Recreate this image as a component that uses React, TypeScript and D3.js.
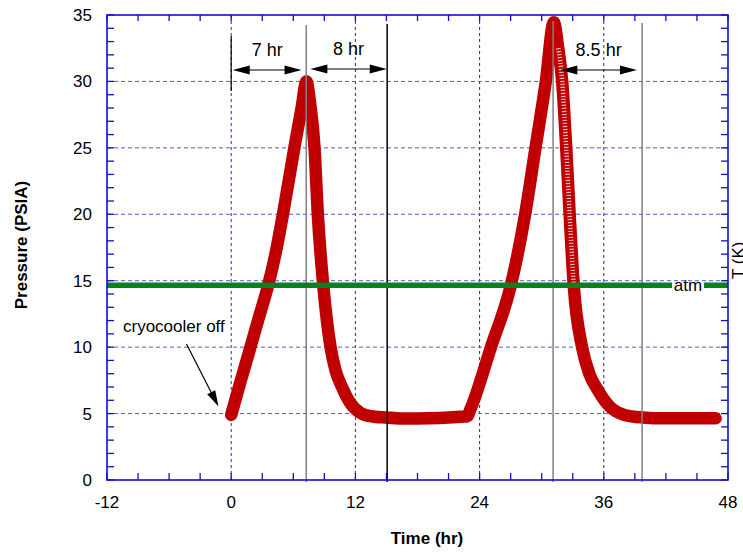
import React from 'react';
import * as d3 from 'd3';

// pressure record
const timeHr = [0, 0.9, 1.86, 2.7, 3.55, 4.3, 5.0, 6.1, 6.8, 7.27, 7.6, 8.05, 8.37, 8.9, 9.6, 10.1, 10.7, 11.5, 12.5, 13.5, 15, 17, 19, 21, 22.5, 22.8, 23.1, 25.1, 27.0, 28.4, 29.4, 30.4, 31.17, 31.6, 31.98, 32.37, 32.7, 33.1, 33.9, 34.6, 35.4, 36.6, 38, 39.7, 42, 44, 46.8];
const psia = [4.9, 7.4, 10, 12.3, 14.6, 17.1, 20, 25, 28, 30, 28.5, 25, 20, 14.6, 10, 8.2, 7.0, 5.8, 5.05, 4.8, 4.7, 4.62, 4.64, 4.7, 4.78, 4.8, 5.3, 10, 14.6, 20, 25, 30, 34.45, 32.5, 30, 25, 20, 14.6, 10, 8.0, 6.8, 5.5, 4.9, 4.71, 4.64, 4.65, 4.64];

const atmPsia = 14.66;
const xTicks = [-12, 0, 12, 24, 36, 48];
const yTicks = [0, 5, 10, 15, 20, 25, 30, 35];

// marker lines (hr) and spans
const markerLines = [
  { t: 7.25, color: '#808080', top: 25 },
  { t: 15.07, color: '#000000', top: 24 },
  { t: 31.1, color: '#808080', top: 21 },
  { t: 39.7, color: '#808080', top: 23 },
];
const spans = [
  { from: 0.15, to: 6.8, label: '7 hr', y: 70 },
  { from: 7.65, to: 15.03, label: '8 hr', y: 69 },
  { from: 31.8, to: 39.2, label: '8.5 hr', y: 70 },
];

const W = 743;
const H = 554;
const font = '"Liberation Sans", Arial, sans-serif';

const arrowHead = (tipX: number, tipY: number, dx: number, dy: number, len = 17, half = 4.5) => {
  const n = Math.hypot(dx, dy);
  const ux = dx / n, uy = dy / n;
  const bx = tipX - ux * len, by = tipY - uy * len;
  return `${tipX},${tipY} ${bx - uy * half},${by + ux * half} ${bx + uy * half},${by - ux * half}`;
};

const App = () => {
  const x = d3.scaleLinear().domain([-12, 48]).range([107, 728]);
  const y = d3.scaleLinear().domain([0, 35]).range([480, 15]);
  const pts: [number, number][] = timeHr.map((t, i) => [t, psia[i]]);
  const line = d3.line<[number, number]>()
    .x(d => x(d[0]))
    .y(d => y(d[1]))
    .curve(d3.curveMonotoneX);
  const fallPts = pts.filter(d => d[0] >= 31.5 && d[0] <= 33.2);

  const minorX = d3.range(-12, 48.01, 3);
  const minorY = d3.range(0, 35.01, 1);
  const blue = '#1010cc';

  return (
    <svg width={W} height={H} style={{ position: 'absolute', left: 0, top: 0, background: '#fff' }}>
      {/* grid */}
      {xTicks.slice(1, -1).map(t => (
        <line key={'gx' + t} x1={x(t)} x2={x(t)} y1={y(35)} y2={y(0)} stroke="#2222dd" strokeWidth={1} strokeDasharray="3,3" />
      ))}
      {yTicks.slice(1, -1).map(v => (
        <line key={'gy' + v} x1={x(-12)} x2={x(48)} y1={y(v)} y2={y(v)} stroke="#5555e6" strokeWidth={1} strokeDasharray="4,3" />
      ))}

      {/* pressure curve */}
      <path d={line(pts) || ''} fill="none" stroke="#c00000" strokeWidth={12.5} strokeLinecap="round" strokeLinejoin="round" />
      <path d={line(fallPts) || ''} fill="none" stroke="#fff" strokeWidth={4.5} strokeDasharray="1.2,1.8" opacity={0.75} />

      {/* marker lines */}
      <line x1={x(0)} x2={x(0)} y1={36} y2={91} stroke="#000" strokeWidth={1.2} />
      {markerLines.map(m => (
        <line key={'m' + m.t} x1={x(m.t)} x2={x(m.t)} y1={m.top} y2={y(0) + 2} stroke={m.color} strokeWidth={1.5} />
      ))}
      {spans.map(s => (
        <g key={s.label}>
          <line x1={x(s.from) + 10} x2={x(s.to) - 10} y1={s.y} y2={s.y} stroke="#000" strokeWidth={1.2} />
          <polygon points={arrowHead(x(s.from), s.y, -1, 0)} fill="#000" />
          <polygon points={arrowHead(x(s.to), s.y, 1, 0)} fill="#000" />
          <text x={(x(s.from) + x(s.to)) / 2} y={s.y - 14} textAnchor="middle" fontFamily={font} fontSize={18}>{s.label}</text>
        </g>
      ))}

      {/* atmosphere */}
      <line x1={x(-12)} x2={672} y1={y(atmPsia)} y2={y(atmPsia)} stroke="#0a8020" strokeWidth={5.5} />
      <line x1={704} x2={x(48)} y1={y(atmPsia)} y2={y(atmPsia)} stroke="#0a8020" strokeWidth={5.5} />
      <text x={688} y={y(atmPsia) + 6} textAnchor="middle" fontFamily={font} fontSize={17}>atm</text>

      {/* cryocooler annotation */}
      <text x={123} y={332} fontFamily={font} fontSize={17}>cryocooler off</text>
      <line x1={186.5} y1={344} x2={213} y2={396} stroke="#000" strokeWidth={1.2} />
      <polygon points={arrowHead(218.5, 406.5, 218.5 - 186.5, 406.5 - 344, 16, 4.5)} fill="#000" />

      {/* frame and ticks */}
      <rect x={x(-12)} y={y(35)} width={x(48) - x(-12)} height={y(0) - y(35)} fill="none" stroke={blue} strokeWidth={1.6} />
      {minorX.map(t => (
        <g key={'tx' + t}>
          <line x1={x(t)} x2={x(t)} y1={y(0)} y2={y(0) - 7} stroke={blue} strokeWidth={1.3} />
          <line x1={x(t)} x2={x(t)} y1={y(35)} y2={y(35) + 6} stroke={blue} strokeWidth={1.3} />
        </g>
      ))}
      {minorY.map(v => (
        <g key={'ty' + v}>
          <line x1={x(-12)} x2={x(-12) + 7} y1={y(v)} y2={y(v)} stroke={blue} strokeWidth={1.3} />
          <line x1={x(48)} x2={x(48) - 7} y1={y(v)} y2={y(v)} stroke={blue} strokeWidth={1.3} />
        </g>
      ))}

      {/* tick labels */}
      {xTicks.map(t => (
        <text key={'lx' + t} x={x(t)} y={508} textAnchor="middle" fontFamily={font} fontSize={17}>{t}</text>
      ))}
      {yTicks.map(v => (
        <text key={'ly' + v} x={92} y={y(v) + 6} textAnchor="end" fontFamily={font} fontSize={17}>{v}</text>
      ))}

      {/* axis titles */}
      <text x={427} y={544} textAnchor="middle" fontFamily={font} fontSize={17} fontWeight="bold">Time (hr)</text>
      <text transform="translate(27,245) rotate(-90)" textAnchor="middle" fontFamily={font} fontSize={17} fontWeight="bold">Pressure (PSIA)</text>
      <text transform="translate(744,279) rotate(-90)" fontFamily={font} fontSize={17}>T (K)</text>
    </svg>
  );
};

export default App;
